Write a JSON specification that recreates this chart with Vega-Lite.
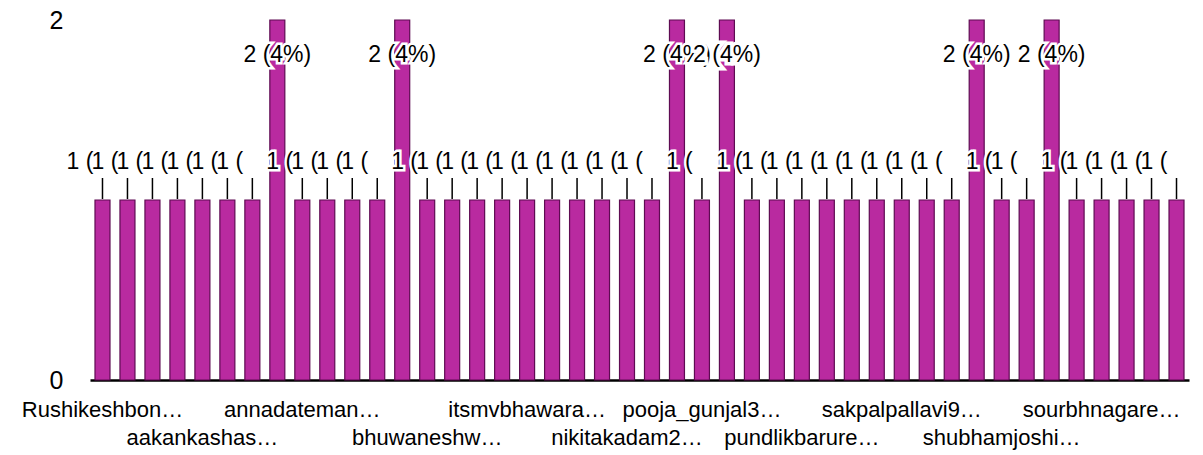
{
  "$schema": "https://vega.github.io/schema/vega-lite/v6.json",
  "width": 1099,
  "height": 360,
  "autosize": "none",
  "padding": {"left": 90, "top": 20, "right": 14, "bottom": 75},
  "background": "white",
  "config": {"view": {"stroke": null}, "font": "Liberation Sans"},
  "data": {
    "values": [
      {"name": "Rushikeshbonde", "count": 1},
      {"name": "aadityajadhav", "count": 1},
      {"name": "aajaypatil", "count": 1},
      {"name": "aakanka.more", "count": 1},
      {"name": "aakankashasane", "count": 1},
      {"name": "abhishekgaikwad", "count": 1},
      {"name": "ajinkyashinde", "count": 1},
      {"name": "amolkadam", "count": 2},
      {"name": "annadatemangesh", "count": 1},
      {"name": "ashwinipatil", "count": 1},
      {"name": "avinashjagtap", "count": 1},
      {"name": "balajimore", "count": 1},
      {"name": "bhagyashri_k", "count": 2},
      {"name": "bhuwaneshwarpatil", "count": 1},
      {"name": "deepakchavan", "count": 1},
      {"name": "ganeshshinde", "count": 1},
      {"name": "harshadpawar", "count": 1},
      {"name": "itsmvbhawarasahil", "count": 1},
      {"name": "kiranjadhav", "count": 1},
      {"name": "maheshkale", "count": 1},
      {"name": "manojdeshmukh", "count": 1},
      {"name": "nikitakadam2001", "count": 1},
      {"name": "omkarthorat", "count": 1},
      {"name": "pallavigaikwad", "count": 2},
      {"name": "pooja_gunjal37", "count": 1},
      {"name": "prajaktamore", "count": 2},
      {"name": "pratiksawant", "count": 1},
      {"name": "priyankajadhav", "count": 1},
      {"name": "pundlikbarure21", "count": 1},
      {"name": "rahulpatil", "count": 1},
      {"name": "rajeshkumbhar", "count": 1},
      {"name": "rohitshinde", "count": 1},
      {"name": "sakpalpallavi99", "count": 1},
      {"name": "sandeepkale", "count": 1},
      {"name": "santoshpawar", "count": 1},
      {"name": "shivajimore", "count": 2},
      {"name": "shubhamjoshi07", "count": 1},
      {"name": "snehalpatil", "count": 1},
      {"name": "sonalideshmukh", "count": 2},
      {"name": "sonawanesagar", "count": 1},
      {"name": "sourbhnagare11", "count": 1},
      {"name": "sudhirjadhav", "count": 1},
      {"name": "swapnilkadam", "count": 1},
      {"name": "vaibhavshinde", "count": 1}
    ]
  },
  "transform": [
    {"joinaggregate": [{"op": "sum", "field": "count", "as": "total"}]},
    {"calculate": "datum.count + ' (' + format(datum.count / datum.total, '.0%') + ')'", "as": "label"}
  ],
  "encoding": {
    "x": {
      "field": "name",
      "type": "nominal",
      "sort": null,
      "scale": {"paddingInner": 0.4, "paddingOuter": 0.2},
      "axis": {
        "title": null,
        "values": ["Rushikeshbonde", "aakankashasane", "annadatemangesh", "bhuwaneshwarpatil", "itsmvbhawarasahil", "nikitakadam2001", "pooja_gunjal37", "pundlikbarure21", "sakpalpallavi99", "shubhamjoshi07", "sourbhnagare11"],
        "labelExpr": "indexof(['Rushikeshbonde','aakankashasane','annadatemangesh','bhuwaneshwarpatil','itsmvbhawarasahil','nikitakadam2001','pooja_gunjal37','pundlikbarure21','sakpalpallavi99','shubhamjoshi07','sourbhnagare11'], datum.value) % 2 == 1 ? ['', ['Rushikeshbon…','aakankashas…','annadateman…','bhuwaneshw…','itsmvbhawara…','nikitakadam2…','pooja_gunjal3…','pundlikbarure…','sakpalpallavi9…','shubhamjoshi…','sourbhnagare…'][indexof(['Rushikeshbonde','aakankashasane','annadatemangesh','bhuwaneshwarpatil','itsmvbhawarasahil','nikitakadam2001','pooja_gunjal37','pundlikbarure21','sakpalpallavi99','shubhamjoshi07','sourbhnagare11'], datum.value)]] : ['Rushikeshbon…','aakankashas…','annadateman…','bhuwaneshw…','itsmvbhawara…','nikitakadam2…','pooja_gunjal3…','pundlikbarure…','sakpalpallavi9…','shubhamjoshi…','sourbhnagare…'][indexof(['Rushikeshbonde','aakankashasane','annadatemangesh','bhuwaneshwarpatil','itsmvbhawarasahil','nikitakadam2001','pooja_gunjal37','pundlikbarure21','sakpalpallavi99','shubhamjoshi07','sourbhnagare11'], datum.value)]",
        "ticks": false,
        "grid": false,
        "labelAngle": 0,
        "labelFont": "Liberation Sans",
        "labelFontSize": 22,
        "labelColor": "black",
        "labelPadding": 19,
        "labelLineHeight": 28,
        "labelLimit": 400,
        "domainColor": "black",
        "domainWidth": 2.5
      }
    },
    "y": {
      "field": "count",
      "type": "quantitative",
      "scale": {"domain": [0, 2], "nice": false},
      "axis": {
        "title": null,
        "values": [0, 1, 2],
        "format": "d",
        "grid": false,
        "ticks": false,
        "domain": false,
        "labelFont": "Liberation Sans",
        "labelFontSize": 25,
        "labelColor": "black",
        "labelPadding": 27
      }
    }
  },
  "layer": [
    {"mark": {"type": "bar", "fill": "#B92AA0", "stroke": "#5E0B52", "strokeWidth": 1.2}},
    {
      "transform": [{"filter": "datum.count == 1"}],
      "mark": {"type": "rule", "color": "black", "strokeWidth": 1.5, "yOffset": -1, "y2Offset": -22},
      "encoding": {"y2": {"field": "count"}}
    },
    {
      "transform": [{"filter": "datum.count == 1"}],
      "mark": {"type": "text", "align": "left", "baseline": "middle", "dx": -36, "dy": -38, "fontSize": 23, "font": "Liberation Sans", "limit": 31, "ellipsis": "\u200b", "fill": "white", "stroke": "white", "strokeWidth": 5},
      "encoding": {"text": {"field": "label"}}
    },
    {
      "transform": [{"filter": "datum.count == 1"}],
      "mark": {"type": "text", "align": "left", "baseline": "middle", "dx": -36, "dy": -38, "fontSize": 23, "font": "Liberation Sans", "limit": 31, "ellipsis": "\u200b", "fill": "black"},
      "encoding": {"text": {"field": "label"}}
    },
    {
      "transform": [{"filter": "datum.count == 2 && datum.name != 'prajaktamore'"}],
      "mark": {"type": "text", "align": "center", "baseline": "middle", "dy": 35, "fontSize": 23, "font": "Liberation Sans", "fill": "white", "stroke": "white", "strokeWidth": 5},
      "encoding": {"text": {"field": "label"}}
    },
    {
      "transform": [{"filter": "datum.count == 2 && datum.name != 'prajaktamore'"}],
      "mark": {"type": "text", "align": "center", "baseline": "middle", "dy": 35, "fontSize": 23, "font": "Liberation Sans", "fill": "black"},
      "encoding": {"text": {"field": "label"}}
    },
    {
      "transform": [{"filter": "datum.name == 'prajaktamore'"}],
      "mark": {"type": "text", "align": "center", "baseline": "middle", "dy": 35, "fontSize": 23, "font": "Liberation Sans", "fill": "white", "stroke": "white", "strokeWidth": 7},
      "encoding": {"text": {"field": "label"}}
    },
    {
      "transform": [{"filter": "datum.name == 'prajaktamore'"}],
      "mark": {"type": "text", "align": "center", "baseline": "middle", "dy": 35, "fontSize": 23, "font": "Liberation Sans", "fill": "black"},
      "encoding": {"text": {"field": "label"}}
    }
  ]
}
